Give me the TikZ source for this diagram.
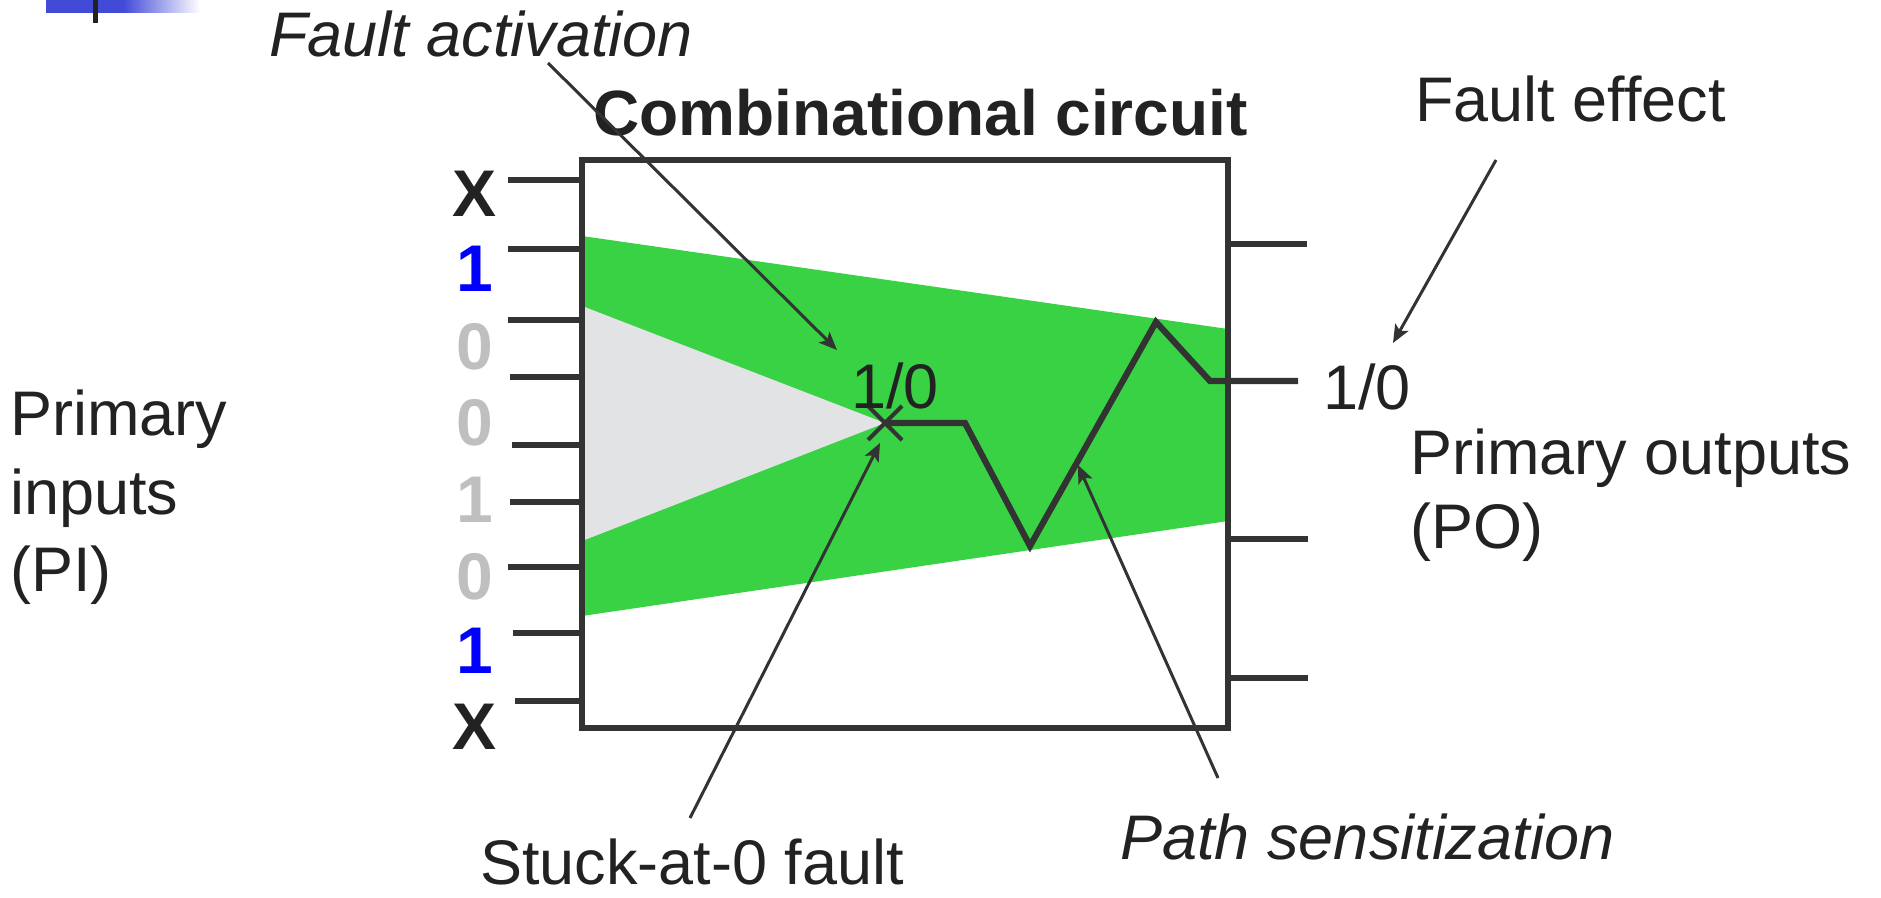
\documentclass[tikz,border=0pt]{standalone}
\usepackage{fontspec}
\setmainfont{Liberation Sans}
\usepackage{xcolor}
\usepackage{tikz}
\usetikzlibrary{arrows.meta,shapes.misc}
\definecolor{ink}{RGB}{51,51,51}
\definecolor{txt}{RGB}{34,34,34}
\definecolor{sensg}{RGB}{57,210,68}
\definecolor{coneg}{RGB}{226,227,228}
\definecolor{dcare}{RGB}{191,191,191}
\definecolor{slideblue}{RGB}{66,74,216}
\newcommand{\bodyfont}{\fontsize{31.5}{39}\selectfont}
\newcommand{\bitfont}{\fontsize{33}{40}\selectfont\bfseries}
\tikzset{
  wire/.style={draw=ink,line width=2.75pt},
  sens/.style={draw=ink,line width=3.1pt},
  ptr/.style={draw=ink,line width=1.5pt,-{Stealth[length=9pt,width=7.5pt,inset=2pt]}},
  lbl/.style={text=txt,inner sep=0pt,font=\bodyfont},
  bitlbl/.style={inner sep=0pt,font=\bitfont}
}

\begin{document}
\begin{tikzpicture}[x=0.5pt,y=-0.5pt]
\useasboundingbox (0,0) rectangle (1881,898);
% slide bullet
\fill[slideblue] (46,0) rectangle (124,13); \shade[left color=slideblue,right color=white] (123,0) rectangle (200,13);
\fill[txt] (93,0) rectangle (98,23);
% sensitized region, fault cone, circuit box
\fill[sensg] (582,236) -- (1228,329) -- (1228,521) -- (582,616) -- cycle;
\fill[coneg] (582,306) -- (885,423) -- (582,541) -- cycle;
\node[draw=ink,line width=2.75pt,minimum width=323pt,minimum height=284pt,inner sep=0pt] (ckt) at (905,444) {};
% primary inputs
\coordinate (pi1) at (508,180); \coordinate (pi2) at (508,249); \coordinate (pi3) at (508,320);
\coordinate (pi4) at (510,377); \coordinate (pi5) at (512,445); \coordinate (pi6) at (510,502);
\coordinate (pi7) at (508,567); \coordinate (pi8) at (513,633); \coordinate (pi9) at (515,701);
\draw[wire] (pi1) -- (pi1 -| ckt.west); \draw[wire] (pi2) -- (pi2 -| ckt.west); \draw[wire] (pi3) -- (pi3 -| ckt.west);
\draw[wire] (pi4) -- (pi4 -| ckt.west); \draw[wire] (pi5) -- (pi5 -| ckt.west); \draw[wire] (pi6) -- (pi6 -| ckt.west);
\draw[wire] (pi7) -- (pi7 -| ckt.west); \draw[wire] (pi8) -- (pi8 -| ckt.west); \draw[wire] (pi9) -- (pi9 -| ckt.west);
\node[bitlbl,text=txt] (v1) at (475,194) {X}; \node[bitlbl,text=blue] (v2) at (475,269) {1};
\node[bitlbl,text=dcare] (v3) at (475,347) {0}; \node[bitlbl,text=dcare] (v4) at (475,423) {0};
\node[bitlbl,text=dcare] (v5) at (475,500) {1}; \node[bitlbl,text=dcare] (v6) at (475,577) {0};
\node[bitlbl,text=blue] (v7) at (475,651) {1}; \node[bitlbl,text=txt] (v8) at (475,727) {X};
% primary outputs
\coordinate (po1) at (1307,244); \coordinate (po2) at (1298,381); \coordinate (po3) at (1308,539); \coordinate (po4) at (1308,678);
\draw[wire] (ckt.east |- po1) -- (po1); \draw[wire] (ckt.east |- po3) -- (po3); \draw[wire] (ckt.east |- po4) -- (po4);
% fault site and sensitized path
\coordinate (flt) at (885,423);
\draw[sens] (flt) -- (965,423) -- (1030,546) -- (1156,322) -- (1210,381) -- (po2);
\node[cross out,draw=ink,line width=2pt,minimum size=15pt,inner sep=0pt] (fx) at (flt) {};
\node[lbl,anchor=base west] (f10) at (851,409) {1/0};
\node[lbl,anchor=base west] (o10) at (1323,410) {1/0};
% labels (multi-line ones sit on their last line)
\node[lbl,anchor=base west,font=\fontsize{32}{38}\selectfont\bfseries] (title) at (593,136) {Combinational circuit};
\node[lbl,anchor=base west,font=\bodyfont\itshape] (factv) at (269,57) {Fault activation};
\node[lbl,anchor=base west] (feff) at (1415,122) {Fault effect};
\node[lbl,anchor=base west,align=left] (pin) at (10,592) {Primary\\inputs\\(PI)};
\node[lbl,anchor=base west,align=left,font=\fontsize{31.5}{37}\selectfont] (pout) at (1410,549) {Primary outputs\\(PO)};
\node[lbl,anchor=base west] (sa0) at (480,884) {Stuck-at-0 fault};
\node[lbl,anchor=base west,font=\bodyfont\itshape] (psens) at (1120,859) {Path sensitization};
% pointers
\coordinate (fa-t) at (548,63); \coordinate (fa-h) at (837,350);
\coordinate (fe-t) at (1496,160); \coordinate (fe-h) at (1393,343);
\coordinate (sa-t) at (690,818); \coordinate (sa-h) at (880,443);
\coordinate (ps-t) at (1218,778); \coordinate (ps-h) at (1078,465);
\draw[ptr] (fa-t) -- (fa-h); \draw[ptr] (fe-t) -- (fe-h);
\draw[ptr] (sa-t) -- (sa-h); \draw[ptr] (ps-t) -- (ps-h);
\end{tikzpicture}
\end{document}
